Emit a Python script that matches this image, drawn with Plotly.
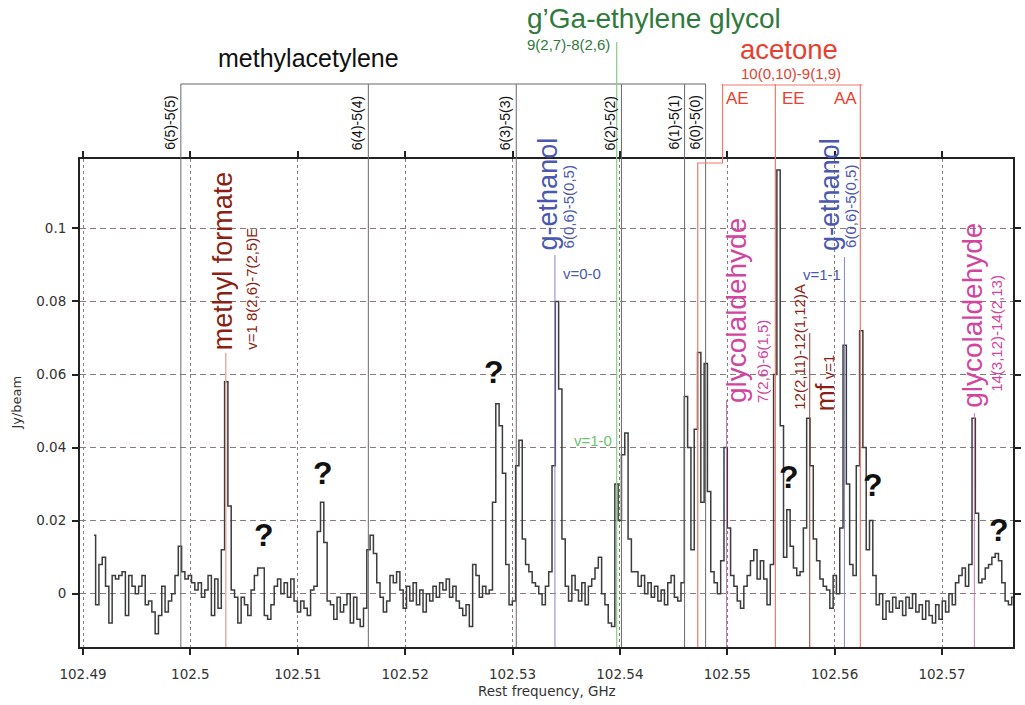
import numpy as np
import plotly.graph_objects as go

# ---------------- data ----------------
# spectral channel grid (GHz)
F0 = 102.49102
CHAN = 0.000308
# measured intensity per channel, mJy/beam
flux_mjy = [
    16, -3, 8, 10, 2, -8, 5, 4, 5, 6,
    -6, 5, 2, 0, 2, 5, -3, -2, -5, -11,
    -6, 2, -5, -2, 0, 5, 13, 6, 4, 5,
    3, 1, 3, -1, 1, 5, -6, 4, -4, 12,
    58, 24, 1, -1, -8, -1, -3, -6, 1, 5,
    7, 7, -6, -7, -3, 2, 4, 0, 3, -1,
    4, -2, -5, -2, -4, -6, 1, 2, 17, 25,
    14, -2, -3, -7, -1, -5, -3, 0, -8, -1,
    -7, -9, -4, 12, 16, 11, 3, -1, -5, -2,
    5,
    3, 6, 1, -4, 2, -2, 3, -3, 1, -5,
    0, -2, 2, -1, 3, 1, 4, -1, 2, -2,
    -4, -6, -3, -9, 8, 5, -1, 2, 0, 1,
    25, 52, 46, 33, 8, -3, -2, 35, 42, 15,
    8, 6, 3, 2, 0, -3, 2, 6, 35, 80,
    56, 15, 2, -2, 5, 1, -2, 3, -3, 2,
    4, 7, 10, 0, -3, -8, -9, 30, 20, 38,
    44, 15, 6, 6, 2, 5, 0, 3, -1, 2,
    -2, 1, -3, 3, 5, -1, -2, 3, 54, 40,
    12, 45, 66,
    25, 63, 28, 6, 3, 0, 9, 40, 18, 5,
    2, -2, -4, 2, 5, 9, 12, 4, 9, 4,
    -3, 8, 60, 116, 46, 10, 23, 13, 7, 5,
    6, 18, 48, 35, 15, 9, 4, 2, 1, -4,
    5, 0, 18, 68, 30, 8, 5, 35, 72, 40,
    12, 20, 5, -3, 0, -7, -2, -5, -1, -4,
    -2, -6, -1, -4, 0, -5, -3, -7, -2, -6,
    -8, -3, -7, -2, -5, 0, -3, 3, 5, 7,
    2, 8, 48, 22, 3, 4, 7, 8, 10, 11,
    9, 3, -2, -3, -1,
]

# line catalogue (GHz)
ma_labels = ["6(5)-5(5)", "6(4)-5(4)", "6(3)-5(3)", "6(2)-5(2)", "6(1)-5(1)", "6(0)-5(0)"]
ma_freqs = [102.499110, 102.516573, 102.530348, 102.540145, 102.546024, 102.547984]
acetone_labels = ["AE", "EE", "AA"]
acetone_freqs = [102.54725, 102.55448, 102.56239]
acetone_ae_top = 102.54956
eg_freq = 102.5397
getoh_freqs = [102.53395, 102.56091]
getoh_vlabels = ["v=0-0", "v=1-1"]
mf_freq = 102.50330
mf_v1_freq = 102.55768
gly_freqs = [102.54993, 102.57301]
gly_trans = ["7(2,6)-6(1,5)", "14(3,12)-14(2,13)"]
q_freqs = [102.50690, 102.51235, 102.52823, 102.55574, 102.56359, 102.57532]
q_vals = [0.0162, 0.0331, 0.0608, 0.0320, 0.0298, 0.0175]

x_ticks = [102.49, 102.50, 102.51, 102.52, 102.53, 102.54, 102.55, 102.56, 102.57]
y_ticks = [0, 0.02, 0.04, 0.06, 0.08, 0.1]

freq = F0 + CHAN * np.arange(len(flux_mjy))
flux = np.array(flux_mjy, dtype=float) / 1000.0

# ---------------- geometry helpers (pixels -> paper) ----------------
W, H = 1025, 705
L, R, T, B = 80, 1021, 159, 647


def yp(py):
    return (B - py) / (B - T)


def xp(px):
    return (px - L) / (R - L)


SANS = "Liberation Sans, Arial, sans-serif"
AXF = "DejaVu Sans, sans-serif"

fig = go.Figure()
fig.add_trace(go.Scatter(x=freq, y=flux, mode="lines", line_shape="hvh",
                         line=dict(color="#3c3c3c", width=1.5), hoverinfo="skip",
                         showlegend=False))

shapes = []
ann = []


def vline(f, top, color, width=1.0):
    shapes.append(dict(type="line", xref="x", yref="paper", x0=f, x1=f,
                       y0=yp(top), y1=0, line=dict(color=color, width=width), layer="above"))


def vlabel(text, f, dx, bottom, size, color):
    ann.append(dict(text=text, x=f, xref="x", xshift=dx, y=yp(bottom), yref="paper",
                    textangle=-90, xanchor="center", yanchor="bottom", showarrow=False,
                    font=dict(family=SANS, size=size, color=color)))


def tlabel(text, px, py, size, color, xanchor="center"):
    ann.append(dict(text=text, x=xp(px), xref="paper", y=yp(py), yref="paper",
                    xanchor=xanchor, yanchor="middle", showarrow=False,
                    font=dict(family=SANS, size=size, color=color)))


# methylacetylene
MA_C = "#6a6a6a"
for f, lab in zip(ma_freqs, ma_labels):
    vline(f, 84, MA_C, 1.0)
    vlabel(lab, f, -11, 152, 14, "#111111")
shapes.append(dict(type="line", xref="x", yref="paper", x0=ma_freqs[0], x1=ma_freqs[-1],
                   y0=yp(84), y1=yp(84), line=dict(color=MA_C, width=1.2)))
tlabel("methylacetylene", 310, 58, 25, "#111111")

# ethylene glycol
EG_C = "#2f7a3c"
vline(eg_freq, 42, "#8fd18f", 1.3)
tlabel("g\u2019Ga-ethylene glycol", 529, 18, 28, EG_C, xanchor="left")
tlabel("9(2,7)-8(2,6)", 529, 44, 15, EG_C, xanchor="left")
ann.append(dict(text="v=1-0", x=eg_freq, xref="x", xshift=-3, y=yp(440), yref="paper",
                xanchor="right", yanchor="middle", showarrow=False,
                font=dict(family=SANS, size=15, color="#6cc36c")))

# acetone
AC_C = "#e8402f"
AC_L = "#f07a6a"
shapes.append(dict(type="path", xref="x", yref="paper",
                   path=f"M {acetone_ae_top},{yp(84)} L {acetone_ae_top},{yp(163)} "
                        f"L {acetone_freqs[0]},{yp(163)} L {acetone_freqs[0]},0",
                   line=dict(color=AC_L, width=1.2), layer="above"))
vline(acetone_freqs[1], 84, AC_L, 1.2)
vline(acetone_freqs[2], 84, AC_L, 1.2)
shapes.append(dict(type="line", xref="x", yref="paper", x0=acetone_ae_top,
                   x1=acetone_freqs[2] + 0.0002, y0=yp(85), y1=yp(85),
                   line=dict(color=AC_L, width=1.2)))
tlabel("acetone", 795, 50, 27.5, AC_C)
tlabel("10(0,10)-9(1,9)", 797, 74, 15, AC_C)
for lab, px in zip(acetone_labels, [743, 800, 852]):
    tlabel(lab, px, 99, 17, AC_C)

# g-ethanol
ET_C = "#4a58b0"
ET_L = "#8585cc"
vline(getoh_freqs[0], 255, ET_L, 1.0)
vline(getoh_freqs[1], 257, ET_L, 1.0)
vlabel("g-ethanol", getoh_freqs[0], -7, 252, 27, ET_C)
vlabel("6(0,6)-5(0,5)", getoh_freqs[0], 14, 250, 15, ET_C)
vlabel("g-ethanol", getoh_freqs[1], -15, 253, 27, ET_C)
vlabel("6(0,6)-5(0,5)", getoh_freqs[1], 6, 250, 15, ET_C)
ann.append(dict(text=getoh_vlabels[0], x=getoh_freqs[0], xref="x", xshift=6, y=yp(273),
                yref="paper", xanchor="left", yanchor="middle", showarrow=False,
                font=dict(family=SANS, size=15, color=ET_C)))
ann.append(dict(text=getoh_vlabels[1], x=getoh_freqs[1], xref="x", xshift=-1, y=yp(274),
                yref="paper", xanchor="right", yanchor="middle", showarrow=False,
                font=dict(family=SANS, size=15, color=ET_C)))

# methyl formate
MF_C = "#8c1f14"
vline(mf_freq, 353, "#e3a49b", 1.3)
vlabel("methyl formate", mf_freq, -3, 352, 27, MF_C)
vlabel("v=1 8(2,6)-7(2,5)E", mf_freq, 25, 352, 15, MF_C)

# mf v=1
vline(mf_v1_freq, 333, "#9c3a2c", 1.0)
vlabel("12(2,11)-12(1,12)A", mf_v1_freq, -11, 412, 15, MF_C)
vlabel("mf<span style='font-size:15px'> v=1</span>", mf_v1_freq, 15, 413, 25, MF_C)

# glycolaldehyde
GL_C = "#d2459f"
GL_L = "#c77bbf"
vline(gly_freqs[0], 400, GL_L, 1.0)
vline(gly_freqs[1], 413, GL_L, 1.0)
vlabel("glycolaldehyde", gly_freqs[0], 10, 405, 28, GL_C)
vlabel(gly_trans[0], gly_freqs[0], 36, 405, 15, GL_C)
vlabel("glycolaldehyde", gly_freqs[1], -2, 410, 28, GL_C)
vlabel(gly_trans[1], gly_freqs[1], 22, 394, 15, GL_C)

# unidentified features
for f, v in zip(q_freqs, q_vals):
    ann.append(dict(text="<b>?</b>", x=f, y=v, xref="x", yref="y", showarrow=False,
                    xanchor="center", yanchor="middle",
                    font=dict(family=SANS, size=32, color="#111111")))

# axis titles
ann.append(dict(text="Jy/beam", x=xp(15), y=0.5, xref="paper", yref="paper", textangle=-90,
                xanchor="center", yanchor="middle",
                showarrow=False, font=dict(family=AXF, size=13, color="#333333")))
ann.append(dict(text="Rest frequency, GHz", x=0.5, y=yp(691), xref="paper", yref="paper",
                xanchor="center", yanchor="middle",
                showarrow=False, font=dict(family=AXF, size=13.5, color="#333333")))

axis_common = dict(showgrid=True, gridcolor="#8a7c7c", gridwidth=1.3,
                   ticks="outside", ticklen=6, tickwidth=1.5, tickcolor="#222222",
                   showline=True, linewidth=2, linecolor="#222222", mirror="ticks",
                   zeroline=False, tickfont=dict(family=AXF, size=13.5, color="#333333"))

fig.update_layout(
    width=W, height=H,
    margin=dict(l=L, r=W - R, t=T, b=H - B, pad=0),
    paper_bgcolor="white", plot_bgcolor="white",
    xaxis=dict(range=[102.48972, 102.57661], tickvals=x_ticks, ticklabelstandoff=8,
               ticktext=[f"{v:g}" for v in x_ticks], griddash="3px,3px", **axis_common),
    yaxis=dict(range=[-0.0146, 0.119], tickvals=y_ticks, ticklabelstandoff=3,
               ticktext=[f"{v:g}" for v in y_ticks], griddash="6px,4px", **axis_common),
    shapes=shapes,
    annotations=ann,
    showlegend=False,
)

fig.write_html("out.html", config={"displayModeBar": False},
               post_script="document.body.style.margin='0';document.body.style.padding='0';"
                           "document.body.style.overflow='hidden';")
